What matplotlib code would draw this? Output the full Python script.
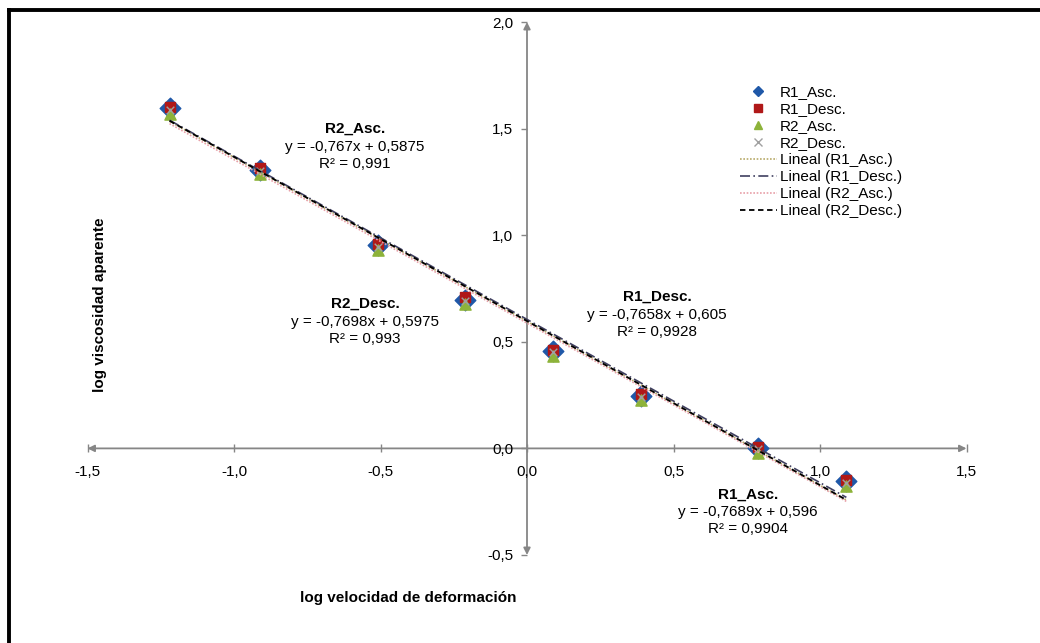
import matplotlib.pyplot as plt
from matplotlib.lines import Line2D
from matplotlib.ticker import FuncFormatter

plt.rcParams['font.family'] = ['Liberation Sans', 'DejaVu Sans']

# log velocidad de deformacion
log_vel = [-1.22, -0.91, -0.51, -0.21, 0.09, 0.39, 0.79, 1.09]

# log viscosidad aparente, one list per series
r1_asc = [1.595, 1.305, 0.955, 0.695, 0.455, 0.245, 0.0, -0.155]
r1_desc = [1.600, 1.315, 0.960, 0.710, 0.460, 0.255, 0.005, -0.150]
r2_asc = [1.570, 1.285, 0.930, 0.675, 0.435, 0.225, -0.020, -0.175]
r2_desc = [1.585, 1.300, 0.945, 0.690, 0.450, 0.240, -0.005, -0.160]

series_names = ['R1_Asc.', 'R1_Desc.', 'R2_Asc.', 'R2_Desc.']
# trend lines as written on the chart
slopes = [-0.7689, -0.7658, -0.767, -0.7698]
intercepts = [0.596, 0.605, 0.5875, 0.5975]
r2_values = ['0,9904', '0,9928', '0,991', '0,993']
eq_texts = ['y = -0,7689x + 0,596', 'y = -0,7658x + 0,605',
            'y = -0,767x + 0,5875', 'y = -0,7698x + 0,5975']

x_ticks = [-1.5, -1.0, -0.5, 0.0, 0.5, 1.0, 1.5]
y_ticks = [-0.5, 0.0, 0.5, 1.0, 1.5, 2.0]

fig = plt.figure(figsize=(10.4, 6.43), dpi=100)
ax = fig.add_axes([87.5 / 1040, 88 / 643, 879 / 1040, 533 / 643])
ax.set_xlim(-1.5, 1.5)
ax.set_ylim(-0.5, 2.0)

gray = '#868686'

# markers
ax.scatter(log_vel, r1_asc, marker='D', s=110, color='#1F58A8', zorder=3)
ax.scatter(log_vel, r1_desc, marker='s', s=60, color='#B01818', zorder=4)
ax.scatter(log_vel, r2_asc, marker='^', s=65, color='#8DB33A', zorder=5)
ax.scatter(log_vel, r2_desc, marker='x', s=30, color='#A0A0A0', linewidths=1, zorder=6)

# trend lines
line_styles = [
    dict(color='#B8AA6A', linestyle=(0, (1, 1)), lw=1.2),
    dict(color='#404060', linestyle=(0, (6, 2, 1, 2)), lw=1.2),
    dict(color='#E8A0A8', linestyle=(0, (1, 1)), lw=1.2),
    dict(color='black', linestyle=(0, (3, 2)), lw=1.3),
]
xs = [min(log_vel), max(log_vel)]
for m, b, st in zip(slopes, intercepts, line_styles):
    ax.plot(xs, [m * v + b for v in xs], zorder=7, **st)

# axes through the origin, with arrows
for s in ax.spines.values():
    s.set_visible(False)
ax.annotate('', xy=(1.5, 0), xytext=(-1.5, 0),
            arrowprops=dict(arrowstyle='<|-|>', color=gray, lw=1.3,
                            shrinkA=0, shrinkB=0, mutation_scale=10),
            zorder=1, annotation_clip=False)
ax.annotate('', xy=(0, 2.0), xytext=(0, -0.5),
            arrowprops=dict(arrowstyle='<|-|>', color=gray, lw=1.3,
                            shrinkA=0, shrinkB=0, mutation_scale=10),
            zorder=1, annotation_clip=False)

comma = FuncFormatter(lambda v, p: f'{v:.1f}'.replace('.', ','))
ax.set_xticks(x_ticks)
ax.set_yticks(y_ticks)
ax.xaxis.set_major_formatter(comma)
ax.yaxis.set_major_formatter(comma)
ax.tick_params(axis='x', direction='inout', length=6, width=1, color=gray,
               labelsize=11, pad=9)
ax.tick_params(axis='y', direction='out', length=4, width=1, color=gray,
               labelsize=11, pad=6)

# move tick marks onto the centre lines
ax.spines['bottom'].set_position(('data', 0))
ax.spines['left'].set_position(('data', 0))

# equation boxes (R1_Asc, R1_Desc, R2_Asc, R2_Desc)
label_pos = [(0.754, -0.215), (0.444, 0.71), (-0.587, 1.50), (-0.553, 0.68)]
for name, eq, r2, (lx, ly) in zip(series_names, eq_texts, r2_values, label_pos):
    ax.text(lx, ly, name, ha='center', va='center', fontsize=11,
            fontweight='bold')
    ax.text(lx, ly - 0.085, eq, ha='center', va='center', fontsize=11)
    ax.text(lx, ly - 0.165, 'R² = ' + r2, ha='center', va='center', fontsize=11)

# legend
handles = [
    Line2D([], [], marker='D', color='#1F58A8', linestyle='none', markersize=5),
    Line2D([], [], marker='s', color='#B01818', linestyle='none', markersize=6),
    Line2D([], [], marker='^', color='#8DB33A', linestyle='none', markersize=6),
    Line2D([], [], marker='x', color='#A0A0A0', linestyle='none', markersize=6),
] + [Line2D([], [], **st) for st in line_styles]
labels = series_names + ['Lineal (' + n + ')' for n in series_names]
fig.legend(handles, labels, loc='upper left',
           bbox_to_anchor=(740 / 1040, 1 - 85 / 643), frameon=False,
           fontsize=11, handlelength=2.4, handletextpad=0.2,
           labelspacing=0.2, borderpad=0, borderaxespad=0)

fig.text(100 / 1040, 1 - 305 / 643, 'log viscosidad aparente', rotation=90,
         ha='center', va='center', fontsize=11, fontweight='bold')
fig.text(408 / 1040, 1 - 598 / 643, 'log velocidad de deformación',
         ha='center', va='center', fontsize=11, fontweight='bold')

# frame of the picture
fig.add_artist(Line2D([8.5 / 1040, 8.5 / 1040], [0, 1 - 9.5 / 643],
                      color='black', lw=2.8, transform=fig.transFigure))
fig.add_artist(Line2D([8.5 / 1040, 1], [1 - 9.5 / 643, 1 - 9.5 / 643],
                      color='black', lw=2.8, transform=fig.transFigure))

plt.savefig('out.png', dpi=100)
